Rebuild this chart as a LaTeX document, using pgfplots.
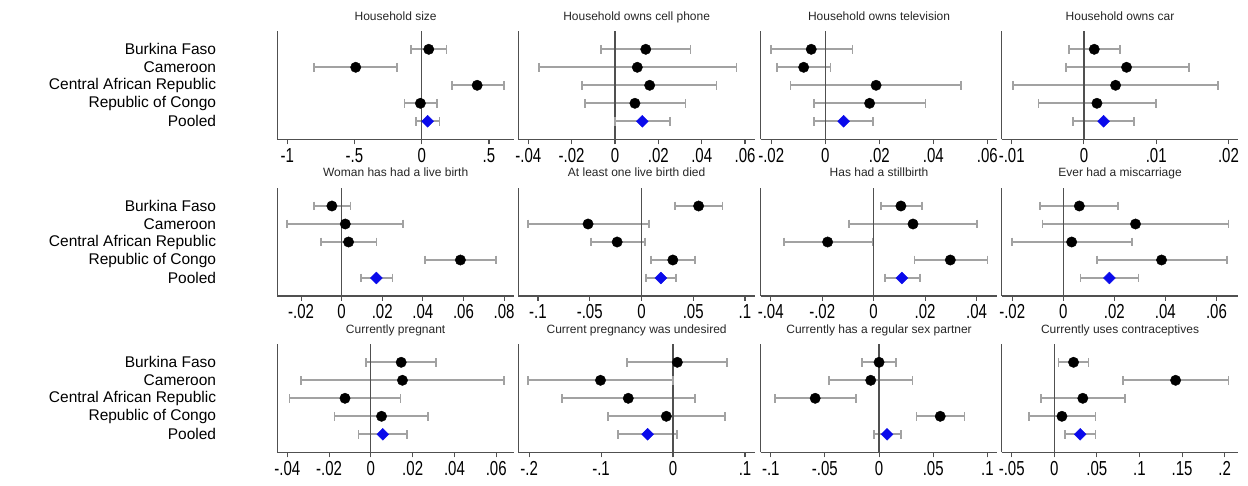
\documentclass[border=0pt]{standalone}
\usepackage{fontspec}
\setmainfont{Liberation Sans}
\usepackage{graphicx}
\usepackage{pgfplots}
\usepackage{pgfplotstable}
\pgfplotsset{compat=1.18}
\definecolor{ebgray}{RGB}{162,162,162}
\definecolor{axgray}{RGB}{80,80,80}
\definecolor{dblue}{RGB}{10,10,235}
\newcommand\T[1]{\scalebox{1}[1.35]{#1}}

% y: 5=Burkina Faso, 4=Cameroon, 3=Central African Republic, 2=Republic of Congo, 1=Pooled
\pgfplotstableread{
y x lo hi
5 0.052 -0.079 0.183
4 -0.491 -0.80 -0.183
3 0.412 0.225 0.612
2 -0.010 -0.128 0.114
1 0.044 -0.042 0.133
}\tA
\pgfplotstableread{
y x lo hi
5 0.0142 -0.0063 0.0349
4 0.0103 -0.0352 0.0560
3 0.0160 -0.0151 0.0468
2 0.0092 -0.0138 0.0325
1 0.0126 0.0000 0.0255
}\tB
\pgfplotstableread{
y x lo hi
5 -0.0052 -0.0202 0.0101
4 -0.0080 -0.0178 0.0019
3 0.0188 -0.0129 0.0503
2 0.0164 -0.0043 0.0371
1 0.0068 -0.0043 0.0176
}\tC
\pgfplotstableread{
y x lo hi
5 0.00143 -0.0021 0.0050
4 0.0059 -0.0025 0.01454
3 0.00438 -0.00983 0.0186
2 0.0018 -0.0063 0.0100
1 0.00272 -0.0015 0.0069
}\tD
\pgfplotstableread{
y x lo hi
5 -0.0048 -0.0136 0.0043
4 0.0018 -0.0268 0.0301
3 0.0034 -0.0103 0.0172
2 0.0585 0.0412 0.0759
1 0.0171 0.0095 0.0251
}\tE
\pgfplotstableread{
y x lo hi
5 0.0552 0.0323 0.0784
4 -0.0516 -0.1094 0.0071
3 -0.0235 -0.0490 0.0032
2 0.0303 0.0094 0.0519
1 0.0187 0.0045 0.0332
}\tF
\pgfplotstableread{
y x lo hi
5 0.0106 0.0029 0.0188
4 0.0153 -0.0096 0.0403
3 -0.0179 -0.0349 -0.0004
2 0.0298 0.0159 0.0442
1 0.0110 0.0043 0.0179
}\tG
\pgfplotstableread{
y x lo hi
5 0.0063 -0.0090 0.0215
4 0.0283 -0.0081 0.0647
3 0.0033 -0.0202 0.0268
2 0.0385 0.0131 0.0641
1 0.0181 0.0067 0.0295
}\tH
\pgfplotstableread{
y x lo hi
5 0.0145 -0.0024 0.0312
4 0.0151 -0.0333 0.0637
3 -0.0124 -0.0390 0.0142
2 0.0051 -0.0174 0.0272
1 0.0057 -0.0059 0.0172
}\tI
\pgfplotstableread{
y x lo hi
5 0.0060 -0.0636 0.0752
4 -0.1008 -0.2011 0.0000
3 -0.0622 -0.1547 0.0307
2 -0.0093 -0.0901 0.0725
1 -0.0353 -0.0766 0.0051
}\tJ
\pgfplotstableread{
y x lo hi
5 0.0000 -0.0157 0.0154
4 -0.0077 -0.0463 0.0309
3 -0.0590 -0.0960 -0.0216
2 0.0565 0.0346 0.0790
1 0.0074 -0.0046 0.0201
}\tK
\pgfplotstableread{
y x lo hi
5 0.0226 0.0051 0.0402
4 0.1424 0.0803 0.2044
3 0.0335 -0.0156 0.0827
2 0.0090 -0.0293 0.0484
1 0.0304 0.0125 0.0484
}\tL

\pgfplotsset{cp/.style={
  scale only axis, width=236.7pt, height=108pt,
  anchor=south west,
  ymin=0, ymax=6,
  axis x line*=bottom, axis y line*=left,
  axis line style={draw=axgray, line width=1.2pt},
  ytick={1,2,3,4,5}, yticklabels={},
  ytick style={draw=none},
  tick align=outside, major tick length=5pt,
  scaled x ticks=false,
  xtick style={draw=axgray, line width=1.1pt},
  xticklabel style={font=\fontsize{15}{15}\selectfont, anchor=base, yshift=-18pt, inner sep=0pt},
  title style={at={(0.5,1)}, anchor=base, yshift=5.3pt, font=\fontsize{12}{12}\selectfont, text=black!85, inner sep=0pt},
  clip=false,
},
lab/.style={
  yticklabels={Pooled,Republic of Congo,Central African Republic,Cameroon,Burkina Faso},
  yticklabel style={font=\fontsize{15.5}{16}\selectfont, anchor=east, inner sep=0pt, xshift=-56pt},
}}

\newcommand{\cpplots}[1]{%
  \addplot[draw=ebgray, line width=1.8pt, mark=none, forget plot,
    quiver={u=\thisrow{hi}-\thisrow{lo}, v=0}]
    table[x=lo, y=y] {#1};
  \addplot[only marks, mark=|, mark size=4.3pt, mark options={draw=ebgray, line width=1.7pt}, forget plot]
    table[x=lo, y=y] {#1};
  \addplot[only marks, mark=|, mark size=4.3pt, mark options={draw=ebgray, line width=1.7pt}, forget plot]
    table[x=hi, y=y] {#1};
  \addplot[draw=axgray, line width=1.2pt, forget plot] coordinates {(0,0) (0,6)};
  \addplot[only marks, mark=*, mark size=5.2pt, draw=black, fill=black, restrict y to domain=2:5, forget plot] table[x=x, y=y] {#1};
  \addplot[only marks, mark=square*, mark size=4.2pt, mark options={rotate=45, fill=dblue, draw=dblue}, restrict y to domain=1:1, forget plot] table[x=x, y=y] {#1};
}

\begin{document}
\begin{tikzpicture}
\path[use as bounding box] (0,0) rectangle (1248pt,485pt);

% Row 1
\begin{axis}[cp, lab, at={(277.3pt,345.7pt)}, title={Household size},
  xmin=-1.074, xmax=0.686, xtick={-1,-0.5,0,0.5}, xticklabels={\T{-1},\T{-.5},\T{0},\T{.5}}]
\cpplots{\tA}
\end{axis}
\begin{axis}[cp, at={(518.3pt,345.7pt)}, title={Household owns cell phone},
  xmin=-0.0446, xmax=0.0646, xtick={-0.04,-0.02,0,0.02,0.04,0.06}, xticklabels={\T{-.04},\T{-.02},\T{0},\T{.02},\T{.04},\T{.06}}]
\cpplots{\tB}
\end{axis}
\begin{axis}[cp, at={(760.7pt,345.7pt)}, title={Household owns television},
  xmin=-0.0239, xmax=0.0637, xtick={-0.02,0,0.02,0.04,0.06}, xticklabels={\T{-.02},\T{0},\T{.02},\T{.04},\T{.06}}]
\cpplots{\tC}
\end{axis}
\begin{axis}[cp, at={(1001.7pt,345.7pt)}, title={Household owns car},
  xmin=-0.01138, xmax=0.02138, xtick={-0.01,0,0.01,0.02}, xticklabels={\T{-.01},\T{0},\T{.01},\T{.02}}]
\cpplots{\tD}
\end{axis}

% Row 2
\begin{axis}[cp, lab, at={(277.3pt,189pt)}, title={Woman has had a live birth},
  xmin=-0.0317, xmax=0.0849, xtick={-0.02,0,0.02,0.04,0.06,0.08}, xticklabels={\T{-.02},\T{0},\T{.02},\T{.04},\T{.06},\T{.08}}]
\cpplots{\tE}
\end{axis}
\begin{axis}[cp, at={(518.3pt,189pt)}, title={At least one live birth died},
  xmin=-0.119, xmax=0.1097, xtick={-0.1,-0.05,0,0.05,0.1}, xticklabels={\T{-.1},\T{-.05},\T{0},\T{.05},\T{.1}}]
\cpplots{\tF}
\end{axis}
\begin{axis}[cp, at={(760.7pt,189pt)}, title={Has had a stillbirth},
  xmin=-0.0439, xmax=0.0481, xtick={-0.04,-0.02,0,0.02,0.04}, xticklabels={\T{-.04},\T{-.02},\T{0},\T{.02},\T{.04}}]
\cpplots{\tG}
\end{axis}
\begin{axis}[cp, at={(1001.7pt,189pt)}, title={Ever had a miscarriage},
  xmin=-0.0241, xmax=0.0686, xtick={-0.02,0,0.02,0.04,0.06}, xticklabels={\T{-.02},\T{0},\T{.02},\T{.04},\T{.06}}]
\cpplots{\tH}
\end{axis}

% Row 3
\begin{axis}[cp, lab, at={(277.3pt,32.7pt)}, title={Currently pregnant},
  xmin=-0.0448, xmax=0.0685, xtick={-0.04,-0.02,0,0.02,0.04,0.06}, xticklabels={\T{-.04},\T{-.02},\T{0},\T{.02},\T{.04},\T{.06}}]
\cpplots{\tI}
\end{axis}
\begin{axis}[cp, at={(518.3pt,32.7pt)}, title={Current pregnancy was undesired},
  xmin=-0.215, xmax=0.1139, xtick={-0.2,-0.1,0,0.1}, xticklabels={\T{-.2},\T{-.1},\T{0},\T{.1}}]
\cpplots{\tJ}
\end{axis}
\begin{axis}[cp, at={(760.7pt,32.7pt)}, title={Currently has a regular sex partner},
  xmin=-0.1093, xmax=0.1093, xtick={-0.1,-0.05,0,0.05,0.1}, xticklabels={\T{-.1},\T{-.05},\T{0},\T{.05},\T{.1}}]
\cpplots{\tK}
\end{axis}
\begin{axis}[cp, at={(1001.7pt,32.7pt)}, title={Currently uses contraceptives},
  xmin=-0.0617, xmax=0.2161, xtick={-0.05,0,0.05,0.1,0.15,0.2}, xticklabels={\T{-.05},\T{0},\T{.05},\T{.1},\T{.15},\T{.2}}]
\cpplots{\tL}
\end{axis}
\end{tikzpicture}
\end{document}
